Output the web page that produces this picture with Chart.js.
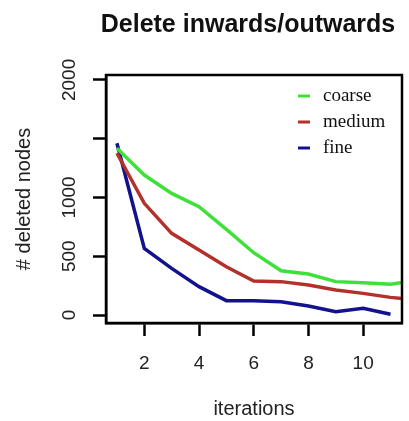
<!DOCTYPE html>
<html>
<head>
<meta charset="utf-8">
<script src="https://cdn.jsdelivr.net/npm/chart.js@4.4.0/dist/chart.umd.min.js"></script>
<style>
  html, body { margin: 0; padding: 0; background: #fff; }
  canvas { display: block; }
</style>
</head>
<body>
<canvas id="plot" width="409" height="421"></canvas>
<script>
// values
const iterations = [1, 2, 3, 4, 5, 6, 7, 8, 9, 10, 11, 12];
const coarse = [1418, 1191, 1035, 922, 729, 530, 377, 349, 284, 275, 261, 300];
const medium = [1376, 950, 695, 553, 411, 289, 284, 255, 213, 184, 150, 125];
const fine = [1461, 567, 397, 241, 122, 122, 113, 77, 28, 57, 6];

const seriesNames = ["coarse", "medium", "fine"];
const seriesColors = ["#3fe03a", "#b3302b", "#12128f"];

const xTicks = [2, 4, 6, 8, 10];
const yTicks = [0, 500, 1000, 1500, 2000];
const yTickLabels = ["0", "500", "1000", "", "2000"];

function pts(vals) {
  return vals.map((v, i) => ({ x: iterations[i], y: v }));
}

// box, title, rotated y labels and legend, R style
const rStyle = {
  id: "rStyle",
  afterDatasetsDraw(chart) {
    const c = chart.ctx;
    const a = chart.chartArea;
    c.save();
    c.strokeStyle = "#000";
    c.lineWidth = 2.5;
    c.strokeRect(a.left, a.top, a.right - a.left, a.bottom - a.top);

    c.fillStyle = "#111";
    c.font = "bold 25px 'Liberation Sans', Arial, sans-serif";
    c.textAlign = "center";
    c.textBaseline = "middle";
    c.fillText("Delete inwards/outwards", 248, 25);

    let y = chart.scales.y;
    c.font = "19px 'Liberation Sans', Arial, sans-serif";
    c.fillStyle = "#222";
    yTicks.forEach((v, i) => {
      if (!yTickLabels[i]) return;
      c.save();
      c.translate(70, y.getPixelForValue(v));
      c.rotate(-Math.PI / 2);
      c.fillText(yTickLabels[i], 0, 0);
      c.restore();
    });

    c.font = "19px 'Liberation Serif', 'Times New Roman', serif";
    c.textAlign = "left";
    seriesNames.forEach((name, i) => {
      let ly = 96 + i * 26;
      c.strokeStyle = seriesColors[i];
      c.lineWidth = 3;
      c.beginPath();
      c.moveTo(298, ly);
      c.lineTo(310, ly);
      c.stroke();
      c.fillStyle = "#111";
      c.fillText(name, 323, ly);
    });
    c.restore();
  }
};

new Chart(document.getElementById("plot"), {
  type: "line",
  data: {
    datasets: [
      { label: seriesNames[0], data: pts(coarse), borderColor: seriesColors[0] },
      { label: seriesNames[1], data: pts(medium), borderColor: seriesColors[1] },
      { label: seriesNames[2], data: pts(fine), borderColor: seriesColors[2] }
    ]
  },
  options: {
    responsive: false,
    animation: false,
    devicePixelRatio: 1,
    layout: { padding: { top: 75, right: 7, left: 0, bottom: 0 } },
    elements: {
      point: { radius: 0 },
      line: { borderWidth: 3.5, tension: 0 }
    },
    plugins: {
      legend: { display: false },
      title: { display: false },
      tooltip: { enabled: false }
    },
    scales: {
      x: {
        type: "linear",
        min: 0.6,
        max: 11.42,
        afterBuildTicks: (s) => { s.ticks = xTicks.map(v => ({ value: v })); },
        afterFit: (s) => { s.height = 98; },
        grid: { drawOnChartArea: false, tickLength: 13, tickWidth: 2.5, tickColor: "#000" },
        border: { color: "#000", width: 2.5 },
        ticks: {
          color: "#222",
          font: { family: "'Liberation Sans', Arial, sans-serif", size: 19 },
          padding: 16,
          maxRotation: 0
        },
        title: {
          display: true,
          text: "iterations",
          color: "#222",
          font: { family: "'Liberation Sans', Arial, sans-serif", size: 20 },
          padding: { top: 0, bottom: 0 }
        }
      },
      y: {
        min: -68,
        max: 2042,
        afterBuildTicks: (s) => { s.ticks = yTicks.map(v => ({ value: v })); },
        afterFit: (s) => { s.width = 106; },
        grid: { drawOnChartArea: false, tickLength: 13, tickWidth: 2.5, tickColor: "#000" },
        border: { color: "#000", width: 2.5 },
        ticks: { display: false },
        title: {
          display: true,
          text: "# deleted nodes",
          color: "#222",
          font: { family: "'Liberation Sans', Arial, sans-serif", size: 20 },
          padding: { top: 12, bottom: 0 }
        }
      }
    }
  },
  plugins: [rStyle]
});
</script>
</body>
</html>
